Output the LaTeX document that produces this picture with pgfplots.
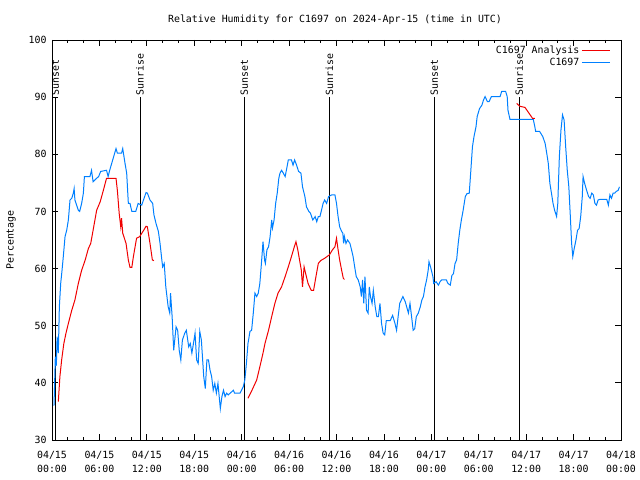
\documentclass[border=0pt]{standalone}
\usepackage{fontspec}
\setmainfont{DejaVu Sans Mono}
\usepackage{pgfplots}
\pgfplotsset{compat=1.18}
\definecolor{gpblue}{RGB}{0,128,255}
\definecolor{gpred}{RGB}{240,0,0}
\begin{document}
\fontsize{9.9bp}{11bp}\selectfont
\begin{tikzpicture}[x=1bp,y=1bp]
\useasboundingbox (0,0) rectangle (640,480);
\node at (335,460) {Relative Humidity for C1697 on 2024-Apr-15 (time in UTC)};
\node[rotate=90] at (11,240) {Percentage};
\begin{axis}[
  at={(52bp,40bp)}, anchor=south west, scale only axis,
  width=569bp, height=400bp,
  xmin=0, xmax=72, ymin=30, ymax=100,
  xtick={0,6,...,72},
  xticklabels={04/15\\00:00,04/15\\06:00,04/15\\12:00,04/15\\18:00,04/16\\00:00,04/16\\06:00,04/16\\12:00,04/16\\18:00,04/17\\00:00,04/17\\06:00,04/17\\12:00,04/17\\18:00,04/18\\00:00},
  xticklabel style={align=center, font=\fontsize{9.9bp}{14bp}\selectfont, yshift=-8bp},
  minor x tick num=2,
  ytick={30,40,...,100},
  yticklabel style={font=\fontsize{9.9bp}{11bp}\selectfont, xshift=-2bp},
  /pgf/number format/assume math mode=true,
  tick align=inside,
  major tick length=6bp, minor tick length=3bp,
  every tick/.style={black, line width=0.8bp},
  axis line style={line width=0.9bp},
  legend style={at={(0.982,0.99)}, anchor=north east, draw=none, fill=none,
    font=\fontsize{9.9bp}{11bp}\selectfont, inner sep=0pt, row sep=-1bp},
  legend cell align=right,
  legend plot pos=right,
  legend image code/.code={\draw[#1, line width=1.2bp] (0bp,0.3bp) -- (28bp,0.3bp);},
  clip=true,
]
% sunrise / sunset
\addplot[black, line width=0.9bp, forget plot] coordinates {(0.42,30) (0.42,90)};
\addplot[black, line width=0.9bp, forget plot] coordinates {(11.13,30) (11.13,90)};
\addplot[black, line width=0.9bp, forget plot] coordinates {(24.33,30) (24.33,90)};
\addplot[black, line width=0.9bp, forget plot] coordinates {(35.09,30) (35.09,90)};
\addplot[black, line width=0.9bp, forget plot] coordinates {(48.37,30) (48.37,90)};
\addplot[black, line width=0.9bp, forget plot] coordinates {(59.13,30) (59.13,90)};
\node[rotate=90, anchor=west, inner sep=1pt, xshift=0.5bp] at (axis cs:0.42,90) {Sunset};
\node[rotate=90, anchor=west, inner sep=1pt, xshift=0.5bp] at (axis cs:11.13,90) {Sunrise};
\node[rotate=90, anchor=west, inner sep=1pt, xshift=0.5bp] at (axis cs:24.33,90) {Sunset};
\node[rotate=90, anchor=west, inner sep=1pt, xshift=0.5bp] at (axis cs:35.09,90) {Sunrise};
\node[rotate=90, anchor=west, inner sep=1pt, xshift=0.5bp] at (axis cs:48.37,90) {Sunset};
\node[rotate=90, anchor=west, inner sep=1pt, xshift=0.5bp] at (axis cs:59.13,90) {Sunrise};
% analysis (red)
\addplot[color=gpred, line width=1bp] coordinates {
(0.8,36.7) (1.0,41.1) (1.22,44) (1.5,46.9) (1.77,48.7) (2.07,50.4) (2.5,52.7) (2.9,54.5) (3.33,57.4) (3.75,59.7) (4.2,61.5) (4.6,63.5) (4.9,64.4) (5.2,66.7) (5.65,70.2) (6.1,71.7) (6.5,73.7) (6.9,75.8) (8.1,75.8) (8.27,73.7) (8.5,69.7) (8.7,67.3) (8.8,68.8) (8.95,66.2) (9.37,64.4) (9.66,61.5) (9.87,60.2) (10.1,60.2) (10.3,62.1) (10.7,65.3) (11.1,65.6) (11.6,66.7) (11.9,67.4) (12.07,67.3) (12.4,64.4) (12.7,61.5) (12.9,61.4)
};
\addlegendentry{C1697 Analysis}
% observations (blue)
\addplot[color=gpblue, line width=1bp] coordinates {
(0.25,36) (0.3,38.3) (0.42,44.6) (0.55,43) (0.6,45.7) (0.65,48.1) (0.8,45.2) (0.93,53.3) (1.1,57.4) (1.27,59.7) (1.43,62.1) (1.65,65.6) (1.86,66.7) (2.07,68.5) (2.28,72.0) (2.5,72.3) (2.7,73.2) (2.8,74.0) (2.9,72) (3.33,70.2) (3.5,70) (3.75,71.4) (3.97,73.2) (4.1,76.1) (4.8,76.1) (5.0,77.2) (5.2,75.2) (5.65,75.8) (5.9,76.1) (6.16,77.0) (6.9,77.2) (7.1,76.1) (7.3,77.2) (7.68,79.0) (8.1,81.0) (8.27,80.2) (8.8,80.2) (8.95,81.0) (9.24,78.4) (9.45,76.7) (9.66,71.4) (9.87,71.4) (10.1,70) (10.6,70) (10.9,71.4) (11.35,71.1) (11.65,72.3) (11.9,73.3) (12.07,73.2) (12.4,72) (12.74,71.4) (12.9,69.4) (13.16,67.9) (13.46,66.5) (13.67,64.4) (13.9,61.5) (14.0,60.3) (14.2,60.9) (14.4,56.8) (14.7,53.3) (14.9,52.2) (15.0,55.7) (15.2,51.6) (15.4,45.7) (15.7,49.8) (15.9,49.2) (16.1,45.7) (16.3,44.0) (16.5,47.5) (16.8,48.7) (17.0,49.2) (17.3,46.3) (17.5,46.9) (17.7,45.2) (17.9,46.9) (18.1,48.7) (18.3,44) (18.5,43.4) (18.7,49.0) (18.9,47.5) (19.2,41.1) (19.4,39.0) (19.6,44) (19.8,44) (20.0,42.2) (20.2,41.1) (20.4,38.7) (20.6,39.9) (20.8,38.2) (21.0,39.9) (21.3,35.5) (21.5,37.6) (21.7,38.7) (21.9,37.6) (22.1,38.2) (22.3,37.9) (22.95,38.7) (23.1,38.2) (23.8,38.2) (24.2,39.3) (24.4,40.5) (24.6,43.4) (24.8,46.9) (25.05,49.0) (25.26,49.2) (25.47,52.2) (25.68,55.7) (25.9,55.1) (26.1,55.7) (26.3,57.4) (26.5,60.9) (26.7,64.7) (26.9,61.5) (27.0,60.9) (27.2,63.3) (27.4,63.8) (27.6,65.6) (27.8,68.5) (27.9,67.1) (28.1,68.5) (28.3,71.4) (28.5,73.2) (28.7,75.8) (28.85,76.7) (29.05,77.2) (29.27,76.7) (29.5,76.1) (29.7,77.5) (29.9,79.0) (30.3,79.0) (30.5,78.1) (30.7,79.0) (30.95,78.1) (31.2,77.0) (31.5,76.7) (31.7,74.3) (32.0,72.6) (32.2,70.8) (32.5,70) (32.7,69.7) (33.0,68.5) (33.3,69.1) (33.5,68.2) (33.7,69.1) (33.9,69.1) (34.1,70.2) (34.3,71.4) (34.5,72) (34.75,71.4) (35.0,72.6) (35.4,72.9) (35.8,72.9) (36.0,71.4) (36.2,69.1) (36.4,67.3) (36.65,66.5) (36.8,66.2) (36.9,64.4) (37.0,65.6) (37.2,64.4) (37.4,65) (37.7,64.4) (37.9,63.3) (38.1,62.1) (38.3,60.3) (38.5,58.6) (38.75,58.0) (39.0,56.8) (39.15,55.1) (39.3,58.0) (39.45,53.9) (39.6,58.6) (39.8,52.7) (40.0,52.2) (40.15,56.8) (40.3,55.1) (40.5,53.9) (40.66,56.2) (40.9,53.3) (41.1,51.6) (41.3,51.6) (41.5,53.9) (41.7,50.4) (41.9,48.7) (42.1,48.4) (42.3,50.9) (42.8,50.9) (43.1,51.8) (43.4,50.4) (43.6,49.2) (43.8,51.6) (44.0,53.9) (44.4,55.1) (44.7,54.2) (45.1,52.2) (45.3,53.9) (45.5,51.6) (45.7,49.2) (45.9,49.5) (46.1,51.6) (46.35,52.2) (46.6,53.3) (46.8,54.5) (47.0,55.1) (47.2,56.8) (47.4,58.0) (47.6,59.7) (47.7,61.2) (47.9,60.3) (48.2,58.6) (48.3,57.4) (48.6,57.7) (48.9,57.1) (49.1,57.7) (49.3,58.0) (49.9,58.0) (50.1,57.4) (50.4,57.1) (50.6,58.8) (50.8,59.1) (51.0,60.9) (51.2,61.5) (51.4,64.4) (51.6,66.7) (51.8,68.5) (52.0,70) (52.3,72.6) (52.5,73.1) (52.8,73.2) (53.0,77.2) (53.2,81.3) (53.4,83.1) (53.65,84.8) (53.8,86.6) (54.1,88.0) (54.4,88.6) (54.6,89.5) (54.8,90.1) (55.1,89.2) (55.3,89.2) (55.6,90.1) (56.7,90.1) (56.9,91.0) (57.4,91.0) (57.6,90.1) (57.7,87.7) (57.95,86.1) (60.9,86.1) (61.1,84.8) (61.2,84.0) (61.7,84.0) (62.1,83.1) (62.4,81.9) (62.6,80.2) (62.8,78.4) (63.0,74.9) (63.2,73.2) (63.4,71.4) (63.6,70.2) (63.85,69.1) (64.0,71.4) (64.2,79.6) (64.4,84.2) (64.6,86.9) (64.8,86.0) (65.0,81.3) (65.2,77.2) (65.4,74.3) (65.6,68.8) (65.75,64.4) (65.9,62.1) (66.05,63.3) (66.3,65) (66.5,66.7) (66.7,67.0) (66.9,69.1) (67.1,72.6) (67.2,76.1) (67.4,74.9) (67.65,73.7) (67.9,72.6) (68.1,72.3) (68.3,73.2) (68.5,72.9) (68.7,71.4) (68.9,71.1) (69.1,72) (69.3,72.1) (70.2,72.1) (70.4,71.1) (70.6,72.9) (70.8,72.3) (71.0,73.2) (71.2,73.2) (71.4,73.5) (71.65,73.7) (71.8,74.3)
};
\addlegendentry{C1697}
\addplot[color=gpred, line width=1bp, forget plot] coordinates {
(24.8,37.3) (25.3,38.7) (25.9,40.5) (26.3,42.8) (26.7,45.2) (26.95,46.9) (27.4,49.2) (27.8,51.6) (28.2,53.9) (28.6,55.7) (29.05,56.8) (29.5,58.6) (29.9,60.3) (30.3,62.1) (30.66,63.8) (30.87,64.7) (31.1,63.3) (31.4,60.9) (31.55,59.7) (31.7,56.8) (31.9,60.3) (32.1,59.1) (32.4,57.4) (32.8,56.2) (33.1,56.2) (33.4,58.6) (33.7,60.9) (34.0,61.4) (34.5,61.8) (35.1,62.4) (35.5,63.3) (35.8,63.8) (36.0,65.3) (36.2,63.3) (36.4,61.5) (36.65,59.7) (36.86,58.3) (37.0,58.1)
};
\addplot[color=gpred, line width=1bp, forget plot] coordinates {
(58.8,88.9) (59.2,88.4) (59.85,88.2) (60.1,87.7) (60.5,86.9) (60.8,86.3) (61.1,86.3)
};
\end{axis}
\end{tikzpicture}
\end{document}
